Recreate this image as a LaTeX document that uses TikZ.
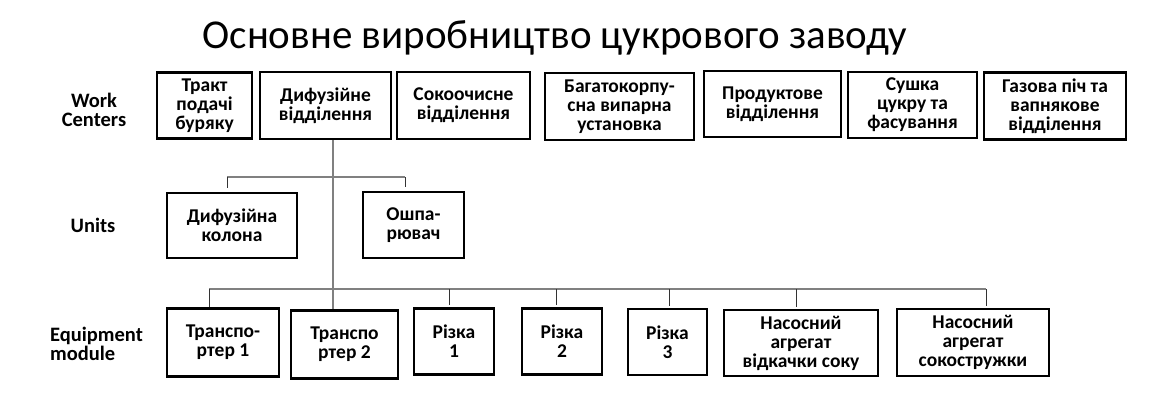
\documentclass[tikz,border=0pt]{standalone}
\usepackage{fontspec}
\setmainfont{Carlito}
\usetikzlibrary{positioning}

\begin{document}
\begin{tikzpicture}[x=1pt, y=-1pt,
        unit/.style={draw, line width=2.4pt, align=center, inner sep=0pt,
            font=\bfseries\fontsize{19.5}{19}\selectfont},
        level/.style={align=center, font=\bfseries\fontsize{20.5}{19.5}\selectfont},
        bus/.style={draw=black!50, line width=1.6pt},
        drop/.style={draw=black!80, line width=1pt}]
        \useasboundingbox (0,0) rectangle (1176,418);

        % title
        \node (title) at (555,38) {\fontsize{41}{44}\selectfont Основне виробництво цукрового заводу};

        % level names
        \node[level] (lwc) at (94,110) {Work\\Centers};
        \node[level] (lun) at (93,225) {Units};
        \node[level, align=left, anchor=west, inner xsep=0pt] (lem) at (50,344) {Equipment\\module};

        % work centers
        \node[unit, minimum width=95pt, minimum height=66pt] (tract) at (204.5,105.5) {Тракт\\подачі\\буряку};
        \node[unit, minimum width=131pt, minimum height=67pt] (dif) at (325.5,105.5) {Дифузійне\\відділення};
        \node[unit, minimum width=133pt, minimum height=67pt] (soko) at (463.5,105.5) {Сокоочисне\\відділення};
        \node[unit, minimum width=149pt, minimum height=67pt] (bag) at (619.5,106.5) {Багатокорпу-\\сна випарна\\установка};
        \node[unit, minimum width=137pt, minimum height=66pt] (prod) at (772.5,104) {Продуктове\\відділення};
        \node[unit, minimum width=129pt, minimum height=66pt] (sush) at (912.5,105) {Сушка\\цукру та\\фасування};
        \node[unit, minimum width=142pt, minimum height=67pt] (gaz) at (1055,106) {Газова піч та\\вапнякове\\відділення};

        % units
        \node[unit, minimum width=130pt, minimum height=65pt] (dcol) at (232,225.5) {Дифузійна\\колона};
        \node[unit, minimum width=101pt, minimum height=66pt] (osh) at (413.5,225) {Ошпа-\\рювач};

        % equipment modules
        \node[unit, minimum width=112pt, minimum height=68pt] (tr1) at (223,342.5) {Транспо-\\ртер 1};
        \node[unit, minimum width=107pt, minimum height=68pt] (tr2) at (344.5,344.5) {Транспо\\ртер 2};
        \node[unit, minimum width=80pt, minimum height=66pt] (riz1) at (454,341.5) {Різка\\1};
        \node[unit, minimum width=80pt, minimum height=66pt] (riz2) at (562,341.5) {Різка\\2};
        \node[unit, minimum width=79pt, minimum height=66pt] (riz3) at (667.5,342) {Різка\\3};
        \node[unit, minimum width=154pt, minimum height=66pt] (nas1) at (801,343) {Насосний\\агрегат\\відкачки соку};
        \node[unit, minimum width=152pt, minimum height=67pt] (nas2) at (973,342.5) {Насосний\\агрегат\\сокостружки};

        % connectors
        \coordinate (ubus) at (0,177);
        \coordinate (ebus) at (0,289);
        \draw[bus] ([xshift=7.5pt]dif.south) -- ([xshift=7.5pt]dif.south |- tr2.north);
        \draw[bus] ([xshift=-5pt]dcol.north |- ubus) -- ([xshift=-8.5pt]osh.north |- ubus);
        \draw[bus] ([xshift=-14pt]tr1.north |- ebus) -- ([xshift=13pt]nas2.north |- ebus);
        \draw[drop] ([xshift=-5pt]dcol.north |- ubus) -- ([xshift=-5pt, yshift=4pt]dcol.north);
        \draw[drop] ([xshift=-8.5pt]osh.north |- ubus) -- ([xshift=-8.5pt, yshift=4pt]osh.north);
        \draw[drop] ([xshift=-14pt]tr1.north |- ebus) -- ([xshift=-14pt]tr1.north);
        \draw[drop] ([xshift=-5pt]riz1.north |- ebus) -- ([xshift=-5pt, yshift=2pt]riz1.north);
        \draw[drop] ([xshift=-6pt]riz2.north |- ebus) -- ([xshift=-6pt, yshift=2pt]riz2.north);
        \draw[drop] ([xshift=1.5pt]riz3.north |- ebus) -- ([xshift=1.5pt, yshift=2pt]riz3.north);
        \draw[drop] ([xshift=-5pt]nas1.north |- ebus) -- ([xshift=-5pt, yshift=2pt]nas1.north);
        \draw[drop] ([xshift=13pt]nas2.north |- ebus) -- ([xshift=13pt, yshift=2pt]nas2.north);
\end{tikzpicture}
\end{document}
